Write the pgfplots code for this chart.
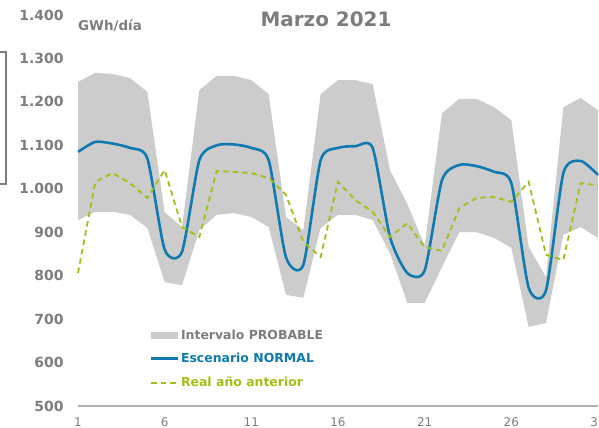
\documentclass[border=0pt]{standalone}
\usepackage{pgfplots}
\pgfplotsset{compat=1.18}
\usepgfplotslibrary{fillbetween}
\usepackage{fontspec}
\setmainfont{DejaVu Sans}
\definecolor{bandgray}{RGB}{204,204,204}
\definecolor{normblue}{RGB}{14,122,176}
\definecolor{realgreen}{RGB}{160,192,20}
\definecolor{txtgray}{RGB}{125,125,125}
\definecolor{axgray}{RGB}{175,175,175}
\begin{document}
\begin{tikzpicture}[x=1bp,y=1bp]
\begin{axis}[
  at={(78bp,22bp)}, anchor=south west,
  scale only axis, width=520bp, height=391bp,
  xmin=1, xmax=31, ymin=500, ymax=1400,
  xtick={1,6,11,16,21,26,31},
  ytick={500,600,...,1400},
  axis x line=bottom, axis y line=left,
  x axis line style={axgray, line width=1.8bp, -},
  y axis line style={draw=none},
  major tick length=0pt,
  /pgf/number format/.cd, 1000 sep={.}, assume math mode=true,
  /pgfplots/.cd,
  yticklabel style={font=\fontsize{14}{14}\selectfont\bfseries, text=txtgray, anchor=east, xshift=-11bp},
  xticklabel style={font=\fontsize{12}{12}\selectfont, text=txtgray, yshift=-8bp},
  clip=false,
  legend style={at={(0.138,0.196)}, anchor=north west, draw=none, fill=none,
    inner sep=0pt, row sep=12.8bp,
    nodes={inner xsep=1.5bp, inner ysep=0bp, font=\fontsize{12.5}{12.5}\selectfont\bfseries}},
  legend cell align=left,
]
\addplot[name path=up, draw=none, forget plot] coordinates {
(1,1246)(2,1267)(3,1264)(4,1255)(5,1223)(6,946)(7,912)(8,1227)(9,1260)(10,1260)
(11,1250)(12,1218)(13,935)(14,905)(15,1218)(16,1250)(17,1250)(18,1241)(19,1043)(20,965)
(21,870)(22,1174)(23,1207)(24,1207)(25,1188)(26,1158)(27,866)(28,797)(29,1188)(30,1209)(31,1181)};
\addplot[name path=lo, draw=none, forget plot] coordinates {
(1,928)(2,947)(3,947)(4,940)(5,910)(6,785)(7,778)(8,905)(9,940)(10,944)
(11,935)(12,912)(13,756)(14,749)(15,910)(16,940)(17,940)(18,928)(19,852)(20,737)
(21,737)(22,820)(23,900)(24,900)(25,887)(26,864)(27,682)(28,691)(29,894)(30,912)(31,887)};
\addplot[fill=bandgray, draw=none,
  legend image code/.code={\fill[bandgray] (0bp,-3.5bp) rectangle (27bp,3.5bp);}]
  fill between[of=up and lo];
\addlegendentry{\textcolor{txtgray}{Intervalo PROBABLE}}
\addplot[normblue, line width=2.6bp, smooth, tension=0.4,
  legend image code/.code={\draw[normblue, line width=2.6bp] (0bp,0bp) -- (27bp,0bp);}]
  coordinates {
(1,1085)(2,1108)(3,1104)(4,1094)(5,1070)(6,860)(7,855)(8,1066)(9,1100)(10,1102)
(11,1094)(12,1066)(13,842)(14,825)(15,1066)(16,1094)(17,1098)(18,1094)(19,889)(20,806)
(21,812)(22,1020)(23,1055)(24,1052)(25,1039)(26,1013)(27,772)(28,766)(29,1036)(30,1064)(31,1032)};
\addlegendentry{\textcolor{normblue}{Escenario NORMAL}}
\addplot[realgreen, line width=1.8bp, dash pattern=on 5.5bp off 4bp,
  legend image code/.code={\draw[realgreen, line width=1.8bp, dash pattern=on 5.5bp off 4bp] (0bp,0bp) -- (27bp,0bp);}]
  coordinates {
(1,806)(2,1016)(3,1036)(4,1013)(5,979)(6,1043)(7,912)(8,889)(9,1041)(10,1039)
(11,1036)(12,1025)(13,986)(14,878)(15,843)(16,1016)(17,974)(18,947)(19,889)(20,921)
(21,866)(22,857)(23,956)(24,979)(25,981)(26,970)(27,1016)(28,848)(29,836)(30,1013)(31,1008)};
\addlegendentry{\textcolor{realgreen}{Real año anterior}}
\end{axis}
\node[font=\fontsize{20}{20}\selectfont\bfseries, text=txtgray] at (326bp,409bp) {Marzo 2021};
\node[font=\fontsize{13.5}{13.5}\selectfont\bfseries, text=txtgray, anchor=west, inner sep=0pt] at (78bp,402bp) {GWh/día};
\draw[txtgray, line width=2.6bp] (-2bp,376bp) -- (6bp,376bp) -- (6bp,244bp) -- (-2bp,244bp);
\pgfresetboundingbox
\path[use as bounding box] (0bp,0bp) rectangle (599bp,428bp);
\end{tikzpicture}
\end{document}
